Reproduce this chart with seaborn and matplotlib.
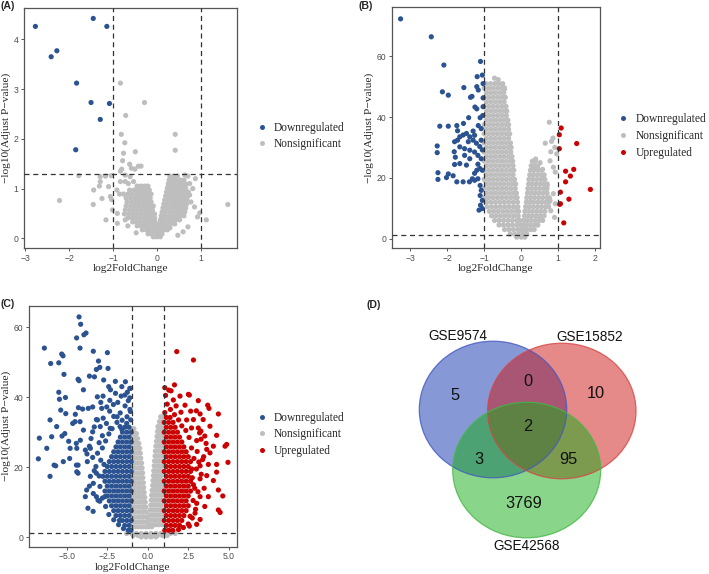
import matplotlib
matplotlib.use("Agg")
import matplotlib.pyplot as plt
from matplotlib.patches import Ellipse
from matplotlib.lines import Line2D
import pandas as pd
import seaborn as sns

sns.set_style("white")
plt.rcParams['font.family'] = ['Liberation Sans', 'DejaVu Sans']
SERIF = ['Liberation Serif', 'DejaVu Serif']

GROUPS = ["Downregulated", "Nonsignificant", "Upregulated"]
PALETTE = {"Downregulated": "#2C5391", "Nonsignificant": "#BEBEBE", "Upregulated": "#CC0000"}
P_CUT = 1.3
FC_CUT = 1.0

# ---------------- Panel A data ----------------
a_down = [(-2.77, 4.26), (-1.45, 4.42), (-1.14, 4.26), (-2.28, 3.77), (-2.41, 3.65),
          (-1.83, 3.12), (-1.50, 2.73), (-1.08, 2.71), (-1.29, 2.39), (-1.85, 1.78)]
a_ns_pts = [(-0.83, 3.12), (-0.28, 2.73), (-0.71, 2.47), (-0.81, 2.09), (-0.73, 1.92),
            (-0.76, 1.71), (-0.49, 1.74), (0.42, 2.09), (0.42, 1.77), (-0.78, 1.56),
            (-0.62, 1.49), (-0.42, 1.45), (-0.36, 1.45), (-0.58, 1.41), (-0.5, 1.39),
            (-0.8, 1.39), (-0.83, 1.35), (-2.22, 0.76), (-1.78, 1.26), (-1.29, 1.24),
            (-1.17, 1.25), (-1.04, 1.26), (-1.29, 1.14), (-1.44, 0.97), (-1.31, 1.05),
            (-1.10, 1.04), (-1.25, 0.80), (-1.45, 0.68), (-1.06, 0.84), (-0.91, 0.97),
            (-0.83, 1.14), (-0.72, 1.14), (-0.65, 1.10), (-0.53, 1.14), (-0.72, 1.27),
            (-0.61, 1.24), (-1.16, 0.37), (-1.01, 0.57), (-0.9, 0.30), (-0.72, 0.37),
            (-0.66, 0.25), (-0.47, 0.11), (1.62, 0.68), (1.13, 0.37), (0.98, 0.51),
            (0.88, 1.20), (0.71, 1.25), (0.64, 1.27), (0.75, 1.10), (0.82, 1.00),
            (0.75, 0.87), (0.78, 0.73), (0.86, 0.63), (0.93, 0.43), (0.71, 0.23),
            (0.6, 0.13), (0.48, 0.06), (-1.03, 0.78), (-0.9, 0.5)]
a_ns_rows = {
    1.05: [-0.45, -0.36, -0.27, -0.2],
    0.97: [-0.62, -0.52, -0.43, -0.34, -0.25, -0.17],
    0.89: [-0.85, -0.76, -0.66, -0.56, -0.46, -0.37, -0.28, -0.2, -0.13],
    0.81: [-0.7, -0.6, -0.5, -0.41, -0.32, -0.23, -0.15],
    0.73: [-0.68, -0.58, -0.49, -0.4, -0.31, -0.22, -0.13],
    0.65: [-0.7, -0.6, -0.51, -0.42, -0.33, -0.24, -0.16, -0.08],
    0.57: [-0.72, -0.62, -0.53, -0.44, -0.35, -0.26, -0.18, -0.1],
    0.49: [-0.74, -0.64, -0.55, -0.46, -0.37, -0.28, -0.2, -0.12, -0.05],
    0.41: [-0.66, -0.56, -0.47, -0.38, -0.29, -0.21, -0.13, -0.05],
    0.33: [-0.55, -0.46, -0.37, -0.28, -0.2, -0.12, -0.04],
    0.25: [-0.45, -0.36, -0.27, -0.19, -0.11, -0.03],
    0.17: [-0.33, -0.24, -0.16, -0.08, 0.0, 0.08, 0.16, 0.24],
    0.09: [-0.2, -0.12, -0.04, 0.04, 0.12],
    0.03: [-0.08, 0.0, 0.08],
    1.25: [0.3, 0.38, 0.47],
    1.17: [0.28, 0.36, 0.45, 0.54, 0.62],
    1.09: [0.26, 0.34, 0.43, 0.52, 0.6, 0.67],
    1.01: [0.24, 0.32, 0.41, 0.5, 0.58, 0.66],
    0.93: [0.22, 0.3, 0.39, 0.48, 0.57, 0.65, 0.72],
    0.85: [0.2, 0.28, 0.37, 0.46, 0.55, 0.63, 0.7],
    0.77: [0.18, 0.26, 0.35, 0.44, 0.53, 0.61, 0.69],
    0.69: [0.16, 0.24, 0.33, 0.42, 0.51, 0.6, 0.68],
    0.61: [0.14, 0.22, 0.31, 0.4, 0.49, 0.58, 0.66],
    0.53: [0.12, 0.2, 0.29, 0.38, 0.47, 0.56, 0.64],
    0.45: [0.1, 0.18, 0.27, 0.36, 0.45, 0.54, 0.62],
    0.37: [0.08, 0.16, 0.25, 0.34, 0.43, 0.52],
    0.29: [0.06, 0.14, 0.23, 0.32, 0.41],
    0.21: [0.04, 0.12, 0.2, 0.3],
}
a_xticks = [-3, -2, -1, 0, 1]
a_xticklabels = ["\u22123", "\u22122", "\u22121", "0", "1"]
a_yticks = [0, 1, 2, 3, 4]

# ---------------- Panel B data ----------------
b_down = [(-3.26, 72.3), (-2.43, 66.4), (-2.09, 57.1), (-1.10, 58.3), (-2.13, 48.3),
          (-1.97, 47.2), (-1.55, 49.7), (-1.37, 46.5), (-1.33, 46.8), (-1.19, 53.3),
          (-1.05, 53.8), (-1.20, 50.0), (-1.03, 51.0), (-1.16, 48.9), (-1.03, 46.3),
          (-1.20, 42.7), (-1.25, 43.3), (-1.03, 43.4), (-1.42, 39.8), (-1.11, 39.8),
          (-1.56, 37.9), (-1.16, 37.2), (-1.08, 36.2), (-2.20, 37.0), (-1.97, 37.0),
          (-1.74, 37.2), (-1.72, 35.5), (-1.30, 35.4), (-1.26, 34.0), (-1.48, 34.6),
          (-1.39, 33.5), (-1.57, 34.1), (-1.66, 33.5), (-1.72, 32.4), (-1.43, 31.9),
          (-1.30, 32.4), (-1.21, 31.4), (-1.08, 32.4), (-1.12, 30.3), (-1.05, 29.2),
          (-2.27, 30.5), (-2.27, 28.3), (-1.80, 31.9), (-1.81, 28.6), (-1.66, 30.2),
          (-1.53, 29.6), (-1.39, 29.1), (-1.26, 28.5), (-1.17, 27.4), (-1.78, 26.8),
          (-1.53, 27.4), (-1.39, 26.3), (-1.08, 26.3), (-1.80, 24.4), (-1.66, 24.7),
          (-1.48, 24.2), (-1.17, 24.5), (-1.12, 23.1), (-1.05, 22.5), (-1.20, 22.5),
          (-1.26, 21.5), (-2.25, 21.7), (-2.25, 19.5), (-2.02, 20.1), (-1.97, 21.3),
          (-1.84, 20.7), (-1.74, 18.7), (-1.57, 18.7), (-1.40, 18.7), (-1.32, 19.7),
          (-1.26, 19.2), (-1.17, 19.7), (-1.11, 17.5), (-1.08, 15.9), (-1.11, 14.2),
          (-1.05, 12.6), (-1.10, 11.0), (-1.14, 9.4), (-1.05, 9.9), (-1.04, 40.5)]
b_up = [(1.08, 36.4), (1.03, 34.2), (1.50, 31.3), (1.03, 29.6), (1.42, 22.8),
        (1.20, 22.2), (1.33, 20.6), (1.20, 18.7), (1.87, 16.2), (1.06, 15.3),
        (1.29, 13.0), (1.06, 11.5), (1.04, 11.3), (1.15, 5.2)]
b_ns_pts = [(0.76, 38.3), (0.86, 33.1), (0.82, 32.0), (0.65, 31.4), (0.91, 30.0),
            (0.80, 28.6), (0.96, 27.9), (0.78, 25.6), (0.39, 26.2), (0.51, 25.0),
            (0.44, 23.6), (0.58, 22.8), (0.36, 23.1), (0.87, 23.5), (0.92, 21.9),
            (0.59, 19.6), (0.70, 17.5), (0.87, 14.8), (0.78, 12.6), (0.92, 11.5),
            (0.80, 9.2), (0.90, 7.0), (0.51, 6.7), (0.42, 4.5), (-0.72, 52.8),
            (-0.62, 52.3), (-0.49, 49.9), (-0.45, 49.2)]
b_ns_rows = {
    51.0: [-0.95, -0.83, -0.71, -0.6, -0.5],
    49.5: [-1.0, -0.88, -0.76, -0.64, -0.52, -0.45],
    48.0: [-0.94, -0.82, -0.7, -0.58, -0.47],
    46.5: [-1.0, -0.88, -0.76, -0.64, -0.52, -0.43],
    45.0: [-0.94, -0.82, -0.7, -0.58, -0.46],
    43.5: [-1.0, -0.88, -0.76, -0.64, -0.52, -0.41],
    42.0: [-0.94, -0.82, -0.7, -0.58, -0.46, -0.39],
    40.5: [-1.0, -0.88, -0.76, -0.64, -0.52, -0.4],
    39.0: [-0.94, -0.82, -0.7, -0.58, -0.46, -0.36],
    37.5: [-1.0, -0.88, -0.76, -0.64, -0.52, -0.4, -0.34],
    36.0: [-0.94, -0.82, -0.7, -0.58, -0.46, -0.34],
    34.5: [-1.0, -0.88, -0.76, -0.64, -0.52, -0.4, -0.31],
    33.0: [-0.94, -0.82, -0.7, -0.58, -0.46, -0.34],
    31.5: [-1.0, -0.88, -0.76, -0.64, -0.52, -0.4, -0.29],
    30.0: [-0.94, -0.82, -0.7, -0.58, -0.46, -0.34, -0.27],
    28.5: [-1.0, -0.88, -0.76, -0.64, -0.52, -0.4, -0.28],
    27.0: [-0.94, -0.82, -0.7, -0.58, -0.46, -0.34, -0.25],
    25.5: [-1.0, -0.88, -0.76, -0.64, -0.52, -0.4, -0.28, -0.23, 0.3, 0.38],
    24.0: [-0.94, -0.82, -0.7, -0.58, -0.46, -0.34, -0.22, 0.27, 0.36, 0.45],
    22.5: [-1.0, -0.88, -0.76, -0.64, -0.52, -0.4, -0.28, -0.2, 0.25, 0.35, 0.46, 0.55],
    21.0: [-0.94, -0.82, -0.7, -0.58, -0.46, -0.34, -0.22, 0.23, 0.33, 0.44, 0.55, 0.62],
    19.5: [-1.0, -0.88, -0.76, -0.64, -0.52, -0.4, -0.28, -0.18, 0.21, 0.31, 0.42, 0.53, 0.64],
    18.0: [-0.94, -0.82, -0.7, -0.58, -0.46, -0.34, -0.22, -0.15, 0.2, 0.3, 0.4, 0.51, 0.62, 0.7],
    16.5: [-1.0, -0.88, -0.76, -0.64, -0.52, -0.4, -0.28, -0.16, 0.18, 0.28, 0.39, 0.5, 0.61, 0.7],
    15.0: [-0.94, -0.82, -0.7, -0.58, -0.46, -0.34, -0.22, -0.13, 0.17, 0.27, 0.37, 0.48, 0.59, 0.7],
    13.5: [-0.98, -0.88, -0.76, -0.64, -0.52, -0.4, -0.28, -0.16, -0.11, 0.15, 0.25, 0.36, 0.47, 0.58, 0.69, 0.76],
    12.0: [-0.94, -0.82, -0.7, -0.58, -0.46, -0.34, -0.22, -0.1, 0.14, 0.24, 0.34, 0.45, 0.56, 0.67, 0.75],
    10.5: [-0.92, -0.8, -0.68, -0.56, -0.44, -0.32, -0.2, -0.09, 0.12, 0.22, 0.33, 0.44, 0.55, 0.66, 0.74],
    9.0: [-0.86, -0.74, -0.62, -0.5, -0.38, -0.26, -0.14, -0.07, 0.1, 0.2, 0.31, 0.42, 0.53, 0.64],
    7.5: [-0.8, -0.68, -0.56, -0.44, -0.32, -0.2, -0.08, 0.09, 0.19, 0.29, 0.4, 0.51, 0.62],
    6.0: [-0.72, -0.6, -0.48, -0.36, -0.24, -0.12, -0.04, 0.07, 0.17, 0.27, 0.38, 0.49, 0.58],
    4.5: [-0.6, -0.48, -0.36, -0.24, -0.12, -0.02, 0.05, 0.14, 0.24, 0.35, 0.45],
    3.0: [-0.45, -0.33, -0.21, -0.09, 0.0, 0.08, 0.16, 0.26, 0.35],
    1.5: [-0.3, -0.18, -0.06, 0.05, 0.15],
    0.5: [-0.12, 0.0, 0.1],
}
b_xticks = [-3, -2, -1, 0, 1, 2]
b_xticklabels = ["\u22123", "\u22122", "\u22121", "0", "1", "2"]
b_yticks = [0, 20, 40, 60]

# ---------------- Panel C data ----------------
c_down_pts = [(-4.24, 62.9), (-4.14, 60.8), (-3.81, 58.3), (-3.94, 57.8), (-4.39, 56.9),
              (-4.18, 54.0), (-6.38, 54.0), (-5.31, 52.3), (-5.23, 51.8), (-5.99, 49.6),
              (-5.49, 49.8), (-3.36, 53.1), (-2.49, 52.7), (-3.04, 50.3), (-3.17, 47.9),
              (-2.96, 48.5), (-2.45, 48.2), (-5.17, 46.5), (-4.30, 45.1), (-4.24, 44.7),
              (-3.29, 45.8), (-2.72, 44.9), (-2.41, 43.0), (-2.30, 42.1), (-1.38, 44.4),
              (-1.06, 42.5), (-3.97, 42.1), (-3.60, 46.0), (-5.49, 41.4), (-5.45, 39.4),
              (-5.08, 39.9), (-1.99, 41.1), (-1.64, 40.3), (-1.41, 40.6), (-1.26, 41.4),
              (-3.11, 40.1), (-2.76, 40.3), (-2.34, 39.1), (-3.40, 37.2), (-3.67, 36.8),
              (-4.28, 37.0), (-4.02, 36.6), (-2.84, 36.8), (-2.53, 37.2), (-2.12, 37.9),
              (-5.37, 36.3), (-5.06, 35.3), (-4.47, 35.1), (-4.18, 33.0), (-4.49, 33.0),
              (-6.03, 33.5), (-5.62, 31.6), (-4.63, 32.5), (-3.17, 33.6), (-1.89, 34.4),
              (-1.58, 33.4), (-1.28, 34.4), (-1.07, 35.9), (-3.97, 30.6), (-3.40, 30.1),
              (-2.93, 31.6), (-2.32, 31.1), (-1.71, 31.6), (-5.12, 29.6), (-5.29, 28.9),
              (-6.69, 28.3), (-5.93, 28.7), (-4.88, 27.4), (-4.41, 26.8), (-4.16, 27.7),
              (-3.54, 25.4), (-3.85, 24.9), (-6.23, 25.4), (-4.79, 25.4), (-4.38, 25.4),
              (-6.75, 22.4), (-5.21, 21.6), (-5.78, 20.6), (-5.68, 20.4), (-4.30, 20.6),
              (-3.73, 21.6), (-4.38, 18.7), (-4.30, 18.3), (-6.03, 17.4), (-3.77, 13.5),
              (-3.69, 8.3), (-3.37, 7.4), (-3.36, 15.4), (-3.54, 17.4), (-3.17, 18.3),
              (-3.17, 11.6), (-2.96, 10.3), (-3.36, 12.5), (-3.6, 14.6), (-3.85, 11.6),
              (-4.82, 22.5), (-4.40, 20.6), (-3.07, 10.6), (-2.65, 11.6), (-1.11, 42.5),
              (-1.11, 39.8),
              (-2.9, 22.0), (-3.1, 24.0), (-2.8, 25.5), (-3.0, 27.0), (-2.6, 27.5),
              (-2.4, 29.5), (-2.8, 29.0), (-2.2, 31.0), (-2.55, 32.5), (-1.9, 32.8),
              (-2.1, 34.5), (-1.7, 35.5), (-2.35, 36.0), (-1.4, 37.5), (-1.2, 39.0),
              (-1.85, 38.5), (-2.75, 34.0), (-3.3, 31.5), (-3.1, 33.5), (-2.9, 38.5),
              (-1.6, 43.0), (-2.0, 44.5), (-3.6, 26.0), (-3.4, 22.8), (-3.2, 20.2),
              (-3.0, 17.5), (-2.95, 14.5), (-2.8, 11.2), (-2.6, 8.8), (-2.4, 6.5),
              (-2.1, 5.0), (-1.8, 3.6), (-1.5, 2.5), (-3.3, 19.0), (-2.7, 20.8),
              (-3.75, 23.8), (-3.5, 28.2), (-1.3, 32.5), (-1.6, 30.8), (-1.05, 33.5),
              (-1.1, 36.5)]
c_down_rows = {
    2.0: [-1.03, -1.2],
    3.4: [-1.15, -1.42],
    4.8: [-1.02, -1.29, -1.56, -1.75],
    6.2: [-1.15, -1.42, -1.69, -1.96],
    7.6: [-1.02, -1.29, -1.56, -1.83, -2.1],
    9.0: [-1.15, -1.42, -1.69, -1.96, -2.23],
    10.4: [-1.02, -1.29, -1.56, -1.83, -2.1, -2.37],
    11.8: [-1.15, -1.42, -1.69, -1.96, -2.23, -2.5],
    13.2: [-1.02, -1.29, -1.56, -1.83, -2.1, -2.37, -2.64],
    14.6: [-1.15, -1.42, -1.69, -1.96, -2.23, -2.5],
    16.0: [-1.02, -1.29, -1.56, -1.83, -2.1, -2.37, -2.64],
    17.4: [-1.15, -1.42, -1.69, -1.96, -2.23, -2.5, -2.77],
    18.8: [-1.02, -1.29, -1.56, -1.83, -2.1, -2.37, -2.64],
    20.2: [-1.15, -1.42, -1.69, -1.96, -2.23, -2.5],
    21.6: [-1.02, -1.29, -1.56, -1.83, -2.1, -2.37],
    23.0: [-1.15, -1.42, -1.69, -1.96, -2.23],
    24.4: [-1.02, -1.29, -1.56, -1.83, -2.1],
    25.8: [-1.15, -1.42, -1.69, -1.96],
    27.2: [-1.02, -1.29, -1.56, -1.83],
    28.6: [-1.15, -1.42, -1.69],
    30.0: [-1.02, -1.29, -1.56],
    31.4: [-1.15, -1.42],
}
c_up_pts = [(1.79, 53.0), (2.82, 50.6), (1.05, 42.7), (1.65, 43.5), (1.44, 41.8),
            (2.51, 40.8), (2.57, 40.6), (1.99, 40.3), (1.58, 39.2), (3.12, 39.0),
            (2.30, 37.7), (3.70, 37.7), (3.00, 36.1), (3.23, 35.2), (2.82, 33.6),
            (3.78, 36.8), (4.36, 35.2), (3.42, 33.6), (3.12, 31.2), (3.28, 30.3),
            (3.52, 28.9), (4.25, 29.1), (3.84, 31.7), (4.87, 26.5), (4.77, 26.0),
            (3.29, 28.0), (3.02, 27.6), (4.05, 26.0), (3.64, 25.1), (3.84, 24.1),
            (3.39, 22.2), (3.74, 20.8), (4.25, 20.8), (4.95, 21.4), (3.23, 20.4),
            (2.72, 19.5), (4.25, 18.6), (3.64, 17.6), (3.23, 16.7), (4.05, 16.2),
            (2.82, 15.0), (3.48, 14.0), (4.36, 13.5), (3.74, 11.6), (3.23, 11.6),
            (4.63, 11.8), (3.02, 9.7), (3.52, 8.8), (4.36, 7.8), (4.47, 7.1),
            (2.92, 6.9), (2.61, 6.0), (3.23, 5.1), (2.57, 3.2), (3.02, 3.7),
            (2.8, 10.5), (2.9, 14.0), (2.75, 17.0), (3.0, 19.5), (2.85, 22.5),
            (2.7, 25.5), (2.55, 28.5), (2.35, 30.5), (2.1, 31.8), (1.9, 33.5),
            (1.65, 35.0), (1.4, 36.5), (1.2, 38.0), (1.75, 37.5), (2.05, 35.7),
            (2.4, 33.5), (2.7, 31.2), (3.05, 24.5), (3.15, 21.5), (2.95, 8.0),
            (2.75, 5.5), (2.5, 3.8), (2.2, 2.8), (1.9, 2.2), (3.1, 13.0),
            (3.3, 18.0), (2.65, 36.0), (1.1, 40.5), (1.3, 42.0), (3.45, 23.0),
            (3.6, 26.8), (3.2, 29.8)]
c_up_rows = {
    2.0: [1.05, 1.3, 1.55],
    3.4: [1.15, 1.42, 1.69, 1.96],
    4.8: [1.02, 1.29, 1.56, 1.83, 2.1],
    6.2: [1.15, 1.42, 1.69, 1.96, 2.23],
    7.6: [1.02, 1.29, 1.56, 1.83, 2.1, 2.37],
    9.0: [1.15, 1.42, 1.69, 1.96, 2.23, 2.5],
    10.4: [1.02, 1.29, 1.56, 1.83, 2.1, 2.37],
    11.8: [1.15, 1.42, 1.69, 1.96, 2.23, 2.5],
    13.2: [1.02, 1.29, 1.56, 1.83, 2.1, 2.37, 2.64],
    14.6: [1.15, 1.42, 1.69, 1.96, 2.23, 2.5],
    16.0: [1.02, 1.29, 1.56, 1.83, 2.1, 2.37, 2.64],
    17.4: [1.15, 1.42, 1.69, 1.96, 2.23, 2.5],
    18.8: [1.02, 1.29, 1.56, 1.83, 2.1, 2.37, 2.64],
    20.2: [1.15, 1.42, 1.69, 1.96, 2.23, 2.5],
    21.6: [1.02, 1.29, 1.56, 1.83, 2.1, 2.37, 2.64],
    23.0: [1.15, 1.42, 1.69, 1.96, 2.23, 2.5],
    24.4: [1.02, 1.29, 1.56, 1.83, 2.1, 2.37],
    25.8: [1.15, 1.42, 1.69, 1.96, 2.23],
    27.2: [1.02, 1.29, 1.56, 1.83, 2.1],
    28.6: [1.15, 1.42, 1.69, 1.96],
    30.0: [1.02, 1.29, 1.56, 1.83],
    31.4: [1.15, 1.42, 1.69],
    32.8: [1.02, 1.29, 1.56],
    34.2: [1.15, 1.38],
    35.6: [1.05],
}
c_ns_rows = {
    34.4: [0.8, 0.95],
    33.0: [0.72, 0.88],
    31.6: [0.63, 0.8, 0.97],
    31.0: [-0.95, -0.85],
    30.2: [0.6, 0.75, 0.9],
    29.6: [-0.97, -0.8, -0.7],
    28.8: [0.57, 0.72, 0.88],
    28.2: [-0.95, -0.78, -0.63],
    27.4: [0.54, 0.7, 0.86],
    26.8: [-0.97, -0.8, -0.62, -0.55],
    26.0: [0.5, 0.66, 0.82, 0.97],
    25.4: [-0.95, -0.78, -0.6, -0.5],
    24.6: [0.47, 0.63, 0.79, 0.95],
    24.0: [-0.97, -0.8, -0.62, -0.46],
    23.2: [0.45, 0.6, 0.76, 0.92],
    22.6: [-0.95, -0.78, -0.6, -0.43],
    21.8: [0.42, 0.58, 0.74, 0.9],
    21.2: [-0.97, -0.8, -0.62, -0.45, -0.38],
    20.4: [0.4, 0.56, 0.72, 0.88],
    19.8: [-0.95, -0.78, -0.6, -0.43, -0.35],
    19.0: [0.37, 0.53, 0.69, 0.85],
    18.4: [-0.97, -0.8, -0.62, -0.45, -0.32],
    17.6: [0.35, 0.51, 0.67, 0.83],
    17.0: [-0.95, -0.78, -0.6, -0.43, -0.3],
    16.2: [0.32, 0.48, 0.64, 0.8, 0.96],
    15.6: [-0.97, -0.8, -0.62, -0.45, -0.27],
    14.8: [0.3, 0.46, 0.62, 0.78, 0.94],
    14.2: [-0.95, -0.78, -0.6, -0.43, -0.25],
    13.4: [0.27, 0.43, 0.59, 0.75, 0.91],
    12.8: [-0.97, -0.8, -0.62, -0.45, -0.28, -0.22],
    12.0: [0.24, 0.4, 0.56, 0.72, 0.88],
    11.4: [-0.95, -0.78, -0.6, -0.43, -0.26, -0.18],
    10.6: [0.22, 0.38, 0.54, 0.7, 0.86],
    10.0: [-0.97, -0.8, -0.62, -0.45, -0.28, -0.15],
    9.2: [0.19, 0.35, 0.51, 0.67, 0.83],
    8.6: [-0.95, -0.78, -0.6, -0.43, -0.26, -0.12],
    7.8: [0.16, 0.32, 0.48, 0.64, 0.8, 0.96],
    7.2: [-0.97, -0.8, -0.62, -0.45, -0.28, -0.1],
    6.4: [0.14, 0.3, 0.46, 0.62, 0.78, 0.94],
    5.8: [-0.95, -0.78, -0.6, -0.43, -0.26, -0.08],
    5.0: [0.11, 0.27, 0.43, 0.59, 0.75, 0.91],
    4.4: [-0.97, -0.8, -0.62, -0.45, -0.28, -0.1, 0.0],
    3.6: [0.08, 0.24, 0.4, 0.56, 0.72, 0.88],
    3.0: [-0.95, -0.78, -0.6, -0.43, -0.26, -0.09, 0.08, 0.25],
    1.1: [-1.3, -1.0, -0.7, -0.4, -0.1, 0.2, 0.5, 0.8, 1.1, 1.4, 1.7],
    0.5: [-0.9, -0.6, -0.3, 0.0, 0.3, 0.6, 0.9, 1.2],
    0.1: [-0.4, -0.1, 0.2, 0.5],
}
c_xticks = [-5.0, -2.5, 0.0, 2.5, 5.0]
c_xticklabels = ["\u22125.0", "\u22122.5", "0.0", "2.5", "5.0"]
c_yticks = [0, 20, 40, 60]

# ---------------- Panel D data ----------------
venn_sets = ["GSE9574", "GSE15852", "GSE42568"]
venn_region_names = ["only 9574", "9574&15852", "only 15852", "all", "9574&42568", "15852&42568", "only 42568"]
venn_counts = [5, 0, 10, 2, 3, 95, 3769]


def build_df(parts):
    recs = []
    for group, pts, rows in parts:
        for x, y in pts:
            recs.append((x, y, group))
        for y, xs in rows.items():
            for x in xs:
                recs.append((x, y, group))
    df = pd.DataFrame(recs, columns=["log2FC", "nlogp", "group"])
    order = {"Nonsignificant": 0, "Downregulated": 1, "Upregulated": 2}
    df["o"] = df["group"].map(order)
    return df.sort_values("o", kind="stable")


df_a = build_df([("Nonsignificant", a_ns_pts, a_ns_rows), ("Downregulated", a_down, {})])
df_b = build_df([("Nonsignificant", b_ns_pts, b_ns_rows), ("Downregulated", b_down, {}),
                 ("Upregulated", b_up, {})])
df_c = build_df([("Nonsignificant", [], c_ns_rows), ("Downregulated", c_down_pts, c_down_rows),
                 ("Upregulated", c_up_pts, c_up_rows)])

W, H = 709, 574
fig = plt.figure(figsize=(W / 100, H / 100), dpi=100)


def px_axes(x0, y0, x1, y1):
    return fig.add_axes([x0 / W, 1 - y1 / H, (x1 - x0) / W, (y1 - y0) / H])


def volcano(ax, df, xlim, ylim, xticks, xticklabels, yticks, legend_groups, leg_xy):
    sns.scatterplot(data=df, x="log2FC", y="nlogp", hue="group", palette=PALETTE,
                    s=14, linewidth=0, ax=ax, legend=False, zorder=2)
    dash = dict(color="#333333", lw=0.9, ls=(0, (4, 3)), zorder=3)
    ax.axhline(P_CUT, **dash)
    ax.axvline(-FC_CUT, **dash)
    ax.axvline(FC_CUT, **dash)
    ax.set_xlim(*xlim)
    ax.set_ylim(*ylim)
    ax.set_xticks(xticks)
    ax.set_xticklabels(xticklabels)
    ax.set_yticks(yticks)
    for sp in ax.spines.values():
        sp.set_color("#555555")
        sp.set_linewidth(0.9)
    ax.tick_params(bottom=True, left=True, direction="out", length=2.5, width=0.7,
                   color="#555555", labelsize=6.2, labelcolor="#4D4D4D", pad=1.5)
    ax.set_xlabel("log2FoldChange", family=SERIF, fontsize=8.2, labelpad=1)
    ax.set_ylabel("\u2212log10(Adjust P\u2212value)", family=SERIF, fontsize=8.2, labelpad=2)
    handles = [Line2D([0], [0], marker="o", ls="", markersize=3.6, markeredgewidth=0,
                      markerfacecolor=PALETTE[g]) for g in legend_groups]
    ax.legend(handles, legend_groups, loc="center left",
              bbox_to_anchor=(leg_xy[0] / W, 1 - leg_xy[1] / H), bbox_transform=fig.transFigure,
              frameon=False, prop={"family": SERIF, "size": 8.3}, handlelength=1.0,
              handletextpad=0.55, labelspacing=0.42, borderpad=0, borderaxespad=0)


ax_a = px_axes(24, 8, 237, 248)
volcano(ax_a, df_a, (-3.03, 1.83), (-0.195, 4.63), a_xticks, a_xticklabels, a_yticks,
        ["Downregulated", "Nonsignificant"], (256, 136))

ax_b = px_axes(391.7, 7.3, 600, 248.3)
volcano(ax_b, df_b, (-3.50, 2.13), (-3.16, 76.1), b_xticks, b_xticklabels, b_yticks,
        GROUPS, (617.5, 136))

ax_c = px_axes(29.3, 305.7, 236.7, 546.7)
volcano(ax_c, df_c, (-7.31, 5.49), (-2.68, 66.1), c_xticks, c_xticklabels, c_yticks,
        GROUPS, (256, 434.5))

# panel labels
for lab, (x, y) in {"(A)": (7.5, 6), "(B)": (366, 6), "(C)": (7.5, 304), "(D)": (373.3, 304.5)}.items():
    fig.text(x / W, 1 - y / H, lab, fontsize=7.6, fontweight="bold", ha="center", va="center")

# ---------------- Venn ----------------
ax_d = fig.add_axes([360 / W, 0, 349 / W, 290 / H])
ax_d.set_xlim(360, 709)
ax_d.set_ylim(574, 284)
ax_d.axis("off")
circle_geom = [((493, 409.5), 147.4, 136.6), ((561.8, 411), 148.4, 135.6), ((526.7, 470), 148, 135.6)]
circle_fill = ["#0F33AD", "#CD1515", "#15AD15"]
circle_edge = ["#4358C0", "#D84545", "#45B845"]
for (c, w, h), fc, ec in zip(circle_geom, circle_fill, circle_edge):
    ax_d.add_patch(Ellipse(c, w, h, facecolor=fc, alpha=0.5, edgecolor="none", zorder=1))
    ax_d.add_patch(Ellipse(c, w, h, facecolor="none", edgecolor=ec, lw=0.9, alpha=0.8, zorder=2))
set_label_pos = [(457.7, 336), (590, 336.7), (526.7, 546)]
for name, (x, y) in zip(venn_sets, set_label_pos):
    ax_d.text(x, y, name, fontsize=9.8, ha="center", va="center", color="#111111", zorder=3)
count_pos = [(455, 395), (527.7, 381.7), (596, 393.3), (527.7, 426.7), (479, 459), (568.3, 460), (524, 503.3)]
for n, (x, y) in zip(venn_counts, count_pos):
    ax_d.text(x, y, str(n), fontsize=11.8, ha="center", va="center", color="#111111", zorder=3)

fig.savefig("out.png", dpi=100)
